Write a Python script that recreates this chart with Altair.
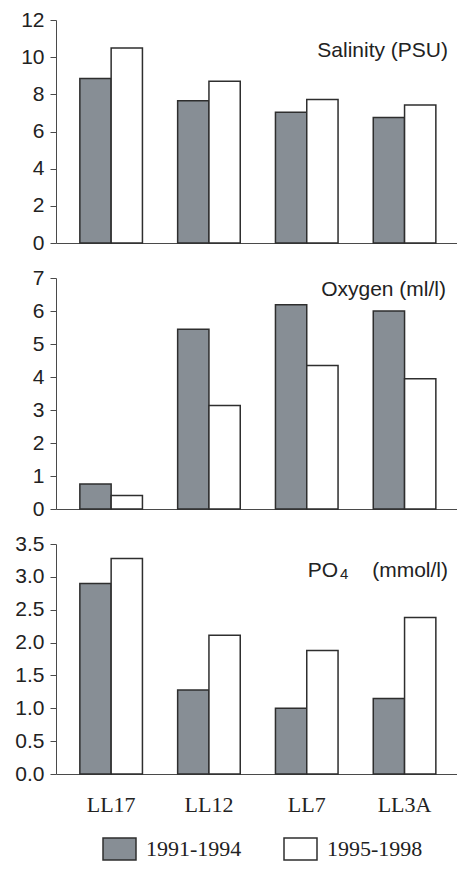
import altair as alt
import pandas as pd

stations = ["LL17", "LL12", "LL7", "LL3A"]
periods = ["1991-1994", "1995-1998"]

salinity_9194 = [8.85, 7.65, 7.04, 6.76]
salinity_9598 = [10.5, 8.70, 7.72, 7.42]
oxygen_9194 = [0.76, 5.45, 6.19, 6.00]
oxygen_9598 = [0.41, 3.14, 4.35, 3.95]
po4_9194 = [2.90, 1.28, 1.00, 1.15]
po4_9598 = [3.28, 2.11, 1.88, 2.38]

salinity_ticks = [0, 2, 4, 6, 8, 10, 12]
oxygen_ticks = [0, 1, 2, 3, 4, 5, 6, 7]
po4_ticks = [0.0, 0.5, 1.0, 1.5, 2.0, 2.5, 3.0, 3.5]

GRAY = "#878e95"
EDGE = "#2e2e2e"
AXIS = "#4a4a4a"
W = 401


def frame(a, b):
    rows = []
    for s, v in zip(stations, a):
        rows.append({"station": s, "period": periods[0], "value": v})
    for s, v in zip(stations, b):
        rows.append({"station": s, "period": periods[1], "value": v})
    return pd.DataFrame(rows)


xscale = alt.Scale(domain=stations, paddingInner=0.36, paddingOuter=0.23, align=0.53)
color = alt.Color(
    "period:N",
    scale=alt.Scale(domain=periods, range=[GRAY, "#ffffff"]),
    legend=alt.Legend(
        title=None,
        orient="none",
        legendX=46,
        legendY=817,
        direction="horizontal",
        symbolType="M-1,-0.667H1V0.667H-1Z",
        symbolSize=1089,
        clipHeight=24,
        symbolStrokeColor=EDGE,
        symbolStrokeWidth=1.5,
        labelFont="Liberation Serif",
        labelFontSize=22,
        labelColor="#222222",
        labelOffset=9,
        columnPadding=41,
        padding=0,
    ),
)


def panel(df, ticks, height, fmt, bottom, labels):
    yax = alt.Axis(
        values=ticks,
        format=fmt,
        title=None,
        grid=False,
        domainColor=AXIS,
        tickColor=AXIS,
        tickSize=6,
        labelPadding=6,
        labelFont="Liberation Sans",
        labelFontSize=21,
        labelColor="#222222",
    )
    if bottom:
        xax = alt.Axis(
            title=None,
            ticks=False,
            labelAngle=0,
            labelFont="Liberation Serif",
            labelFontSize=22,
            labelColor="#222222",
            labelPadding=20,
            domainColor=AXIS,
        )
    else:
        xax = alt.Axis(title=None, ticks=False, labels=False, domainColor=AXIS)
    bars = alt.Chart(df).mark_bar(stroke=EDGE, strokeWidth=1.5).encode(
        x=alt.X("station:N", sort=stations, scale=xscale, axis=xax),
        xOffset=alt.XOffset("period:N", sort=periods),
        y=alt.Y("value:Q", scale=alt.Scale(domain=[ticks[0], ticks[-1]], nice=False), axis=yax),
        color=color,
    )
    layers = [bars]
    for lab in labels:
        txt = alt.Chart(pd.DataFrame({"t": [lab["text"]]})).mark_text(
            align=lab["align"],
            baseline="alphabetic",
            font="Liberation Sans",
            fontSize=lab["size"],
            color="#222222",
        ).encode(text="t:N", x=alt.value(lab["x"]), y=alt.value(lab["y"]))
        layers.append(txt)
    return alt.layer(*layers).properties(width=W, height=height)


p1 = panel(
    frame(salinity_9194, salinity_9598), salinity_ticks, 223, "d", False,
    [{"text": "Salinity (PSU)", "x": 392, "y": 37, "align": "right", "size": 21}],
)
p2 = panel(
    frame(oxygen_9194, oxygen_9598), oxygen_ticks, 231, "d", False,
    [{"text": "Oxygen (ml/l)", "x": 390, "y": 18, "align": "right", "size": 21}],
)
p3 = panel(
    frame(po4_9194, po4_9598), po4_ticks, 230, ".1f", True,
    [
        {"text": "PO", "x": 282, "y": 33, "align": "right", "size": 21},
        {"text": "4", "x": 284, "y": 35, "align": "left", "size": 15},
        {"text": "(mmol/l)", "x": 392, "y": 33, "align": "right", "size": 21},
    ],
)

chart = (
    alt.vconcat(p1, p2, p3, spacing=35, bounds="flush")
    .properties(padding={"left": 6, "top": 1, "right": 0, "bottom": 0})
    .configure_view(stroke=None)
)

chart.save("out.html", embed_options={"renderer": "svg", "actions": False})
